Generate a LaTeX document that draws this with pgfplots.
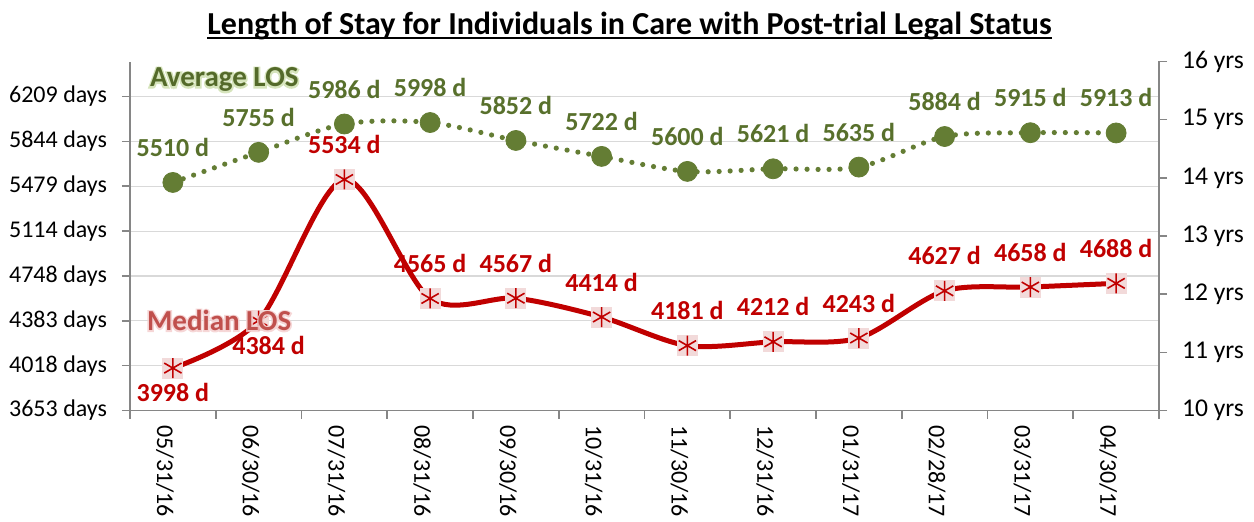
\documentclass[border=0pt]{standalone}
\usepackage{pgfplots}
\pgfplotsset{compat=1.18}
\usepackage{pgfplotstable}
\usepackage{fontspec}
\setmainfont{Carlito}
\newfontfamily\glowfont[UprightFont={* Bold}, FakeBold=11]{Carlito}
\definecolor{avggreen}{RGB}{100,125,52}
\definecolor{avglab}{RGB}{88,112,44}
\definecolor{avgtitle}{RGB}{84,106,42}
\definecolor{medred}{RGB}{192,0,0}
\definecolor{medpink}{RGB}{242,218,218}
\definecolor{axgray}{RGB}{134,134,134}
\definecolor{gridgray}{RGB}{217,217,217}
\definecolor{medlab}{RGB}{192,80,77}
\definecolor{avgglow}{RGB}{214,228,188}
\definecolor{medglow}{RGB}{244,208,208}

\pgfplotstableread{
x avg med
0 5510 3998
1 5755 4384
2 5986 5534
3 5998 4565
4 5852 4567
5 5722 4414
6 5600 4181
7 5621 4212
8 5635 4243
9 5884 4627
10 5915 4658
11 5913 4688
}\datatable

\begin{document}
\begin{tikzpicture}
\path[use as bounding box] (0,0) rectangle (627pt,260.5pt);
\node[font=\bfseries\fontsize{16}{18}\selectfont, anchor=base, inner sep=0pt] (T) at (314.75pt,243.5pt) {Length of Stay for Individuals in Care with Post-trial Legal Status};
\draw[line width=1.1pt] ([yshift=-2pt]T.base west) -- ([yshift=-2pt]T.base east);

\begin{axis}[
  at={(65pt,55.25pt)}, anchor=south west,
  scale only axis, width=514.5pt, height=174.5pt,
  xmin=-0.5, xmax=11.5, ymin=3652.5, ymax=6495,
  axis x line*=bottom, axis y line*=left,
  x axis line style={-, draw=axgray, line width=0.8pt},
  y axis line style={-, draw=axgray, line width=0.8pt},
  tick align=outside, major tick length=4pt,
  tick style={draw=axgray, line width=0.8pt},
  xtick={-0.5,0.5,1.5,2.5,3.5,4.5,5.5,6.5,7.5,8.5,9.5,10.5,11.5},
  x tick label as interval=true,
  xticklabels={05/31/16,06/30/16,07/31/16,08/31/16,09/30/16,10/31/16,11/30/16,12/31/16,01/31/17,02/28/17,03/31/17,04/30/17},
  xticklabel style={rotate=-90, anchor=west, font=\fontsize{12}{14}\selectfont, yshift=-4pt},
  ytick={3652.5,4017.75,4383,4748.25,5113.5,5478.75,5844,6209.25},
  yticklabels={3653 days,4018 days,4383 days,4748 days,5114 days,5479 days,5844 days,6209 days},
  yticklabel style={font=\fontsize{12}{14}\selectfont, xshift=-4pt},
  ymajorgrids, major grid style={draw=gridgray, line width=0.6pt},
  /pgf/number format/assume math mode=true,
  /pgf/number format/1000 sep={},
  clip=false,
]
% Average LOS
\addplot[avggreen, smooth, line width=2.6pt, line cap=round, dash pattern=on 0pt off 5.5pt] table[x=x,y=avg] {\datatable};
\addplot[only marks, color=avggreen, mark=*, mark size=5pt] table[x=x,y=avg] {\datatable};
\addplot[draw=none, point meta=y, nodes near coords={\pgfmathprintnumber{\pgfplotspointmeta} d},
  every node near coord/.style={anchor=center, yshift=17.5pt, text=avglab, font=\bfseries\fontsize{13}{15}\selectfont}] table[x=x,y=avg] {\datatable};
% Median LOS
\addplot[medred, smooth, line width=2.5pt] table[x=x,y=med] {\datatable};
\addplot[only marks, color=medpink, mark=square*, mark size=5pt] table[x=x,y=med] {\datatable};
\addplot[only marks, color=medred, mark=asterisk, mark size=5pt, mark options={line width=0.8pt}] table[x=x,y=med] {\datatable};
\addplot[draw=none, restrict x to domain=1.5:11.5, point meta=y, nodes near coords={\pgfmathprintnumber{\pgfplotspointmeta} d},
  every node near coord/.style={anchor=center, yshift=17.5pt, text=medred, font=\bfseries\fontsize{13}{15}\selectfont}] table[x=x,y=med] {\datatable};
\addplot[draw=none, restrict x to domain=-0.5:0.5, point meta=y, nodes near coords={\pgfmathprintnumber{\pgfplotspointmeta} d},
  every node near coord/.style={anchor=center, yshift=-12pt, text=medred, font=\bfseries\fontsize{13}{15}\selectfont}] table[x=x,y=med] {\datatable};
\addplot[draw=none, restrict x to domain=0.5:1.5, point meta=y, nodes near coords={\pgfmathprintnumber{\pgfplotspointmeta} d},
  every node near coord/.style={anchor=center, yshift=-12.5pt, xshift=5pt, text=medred, font=\bfseries\fontsize{13}{15}\selectfont}] table[x=x,y=med] {\datatable};
\coordinate (avgL) at (axis cs:0.60,6345);
\coordinate (medL) at (axis cs:0.54,4385);
\end{axis}

\begin{axis}[
  at={(65pt,55.25pt)}, anchor=south west,
  scale only axis, width=514.5pt, height=174.5pt,
  xmin=-0.5, xmax=11.5, ymin=10, ymax=16,
  axis x line=none, axis y line*=right,
  y axis line style={-, draw=axgray, line width=0.8pt},
  tick align=outside, major tick length=4pt,
  tick style={draw=axgray, line width=0.8pt},
  ytick={10,11,12,13,14,15,16},
  yticklabels={10 yrs,11 yrs,12 yrs,13 yrs,14 yrs,15 yrs,16 yrs},
  yticklabel style={font=\fontsize{12.8}{14}\selectfont, xshift=4pt},
]
\end{axis}

\node[font=\glowfont\fontsize{14.5}{16}\selectfont, text=avgglow] at (avgL) {Average LOS};
\node[font=\bfseries\fontsize{14.5}{16}\selectfont, text=avgtitle] at (avgL) {Average LOS};
\node[font=\glowfont\fontsize{14.5}{16}\selectfont, text=medglow, opacity=0.85] at (medL) {Median LOS};
\node[font=\bfseries\fontsize{14.5}{16}\selectfont, text=medlab] at (medL) {Median LOS};
\end{tikzpicture}
\end{document}
